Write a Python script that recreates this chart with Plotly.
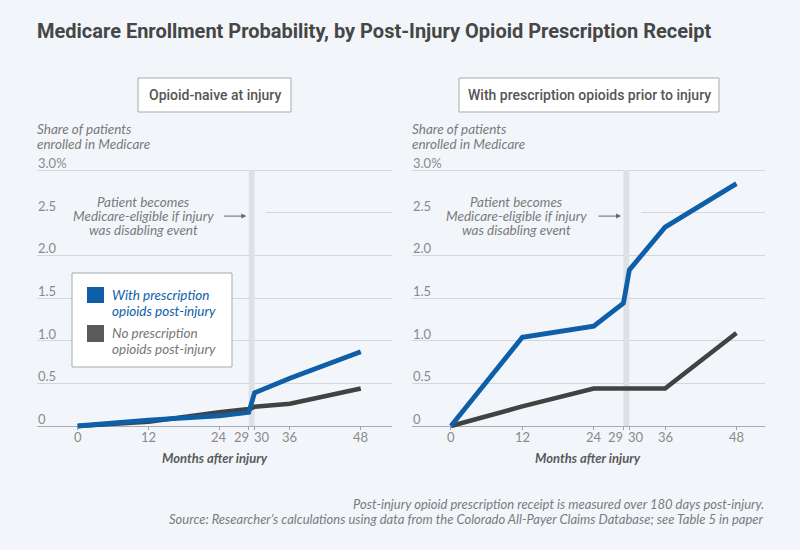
import plotly.graph_objects as go

# ---------------- data ----------------
months = [0, 12, 24, 29, 30, 36, 48]
naive_with = [0, 0.07, 0.12, 0.16, 0.39, 0.56, 0.87]
naive_without = [0, 0.05, 0.16, 0.20, 0.225, 0.26, 0.44]
prior_with = [0, 1.04, 1.17, 1.44, 1.83, 2.33, 2.84]
prior_without = [0, 0.23, 0.44, 0.44, 0.44, 0.44, 1.09]

y_tickvals = [0, 0.5, 1.0, 1.5, 2.0, 2.5, 3.0]
y_ticktext = ["0", "0.5", "1.0", "1.5", "2.0", "2.5", "3.0%"]
x_tickvals = [0, 12, 24, 29, 30, 36, 48]
x_ticktext = ["0", "12", "24", "29", "30", "36", "48"]

panel_titles = ["Opioid-naive at injury", "With prescription opioids prior to injury"]
series_names = ["With prescription opioids post-injury", "No prescription opioids post-injury"]
note_lines = ["Patient becomes", "Medicare-eligible if injury", "was disabling event"]

BG = "#f2f6fa"
BLUE = "#0e5ea8"
DARK = "#424242"
GRID = "#d3d7dc"
TICK = "#8a8a8a"
TXT = "#7a7a7a"
FONT = "Lato"
TFONT = "Roboto"

W, H = 800, 550
def px(v): return v / W
def py(v): return 1 - v / H

fig = go.Figure()

panels = [
    dict(xa="x", ya="y", xd=[px(37), px(392)], xr=[-6.9, 53.3], w=naive_with, wo=naive_without),
    dict(xa="x2", ya="y2", xd=[px(411.7), px(765)], xr=[-6.6, 52.8], w=prior_with, wo=prior_without),
]

UNIT = 85.33  # px per 1.0 percentage point
ydom = [py(426 + 0.04 * UNIT), py(170 - 0.05 * UNIT)]

for i, p in enumerate(panels):
    fig.add_trace(go.Scatter(x=months, y=p["wo"], mode="lines", xaxis=p["xa"], yaxis=p["ya"],
                             line=dict(color=DARK, width=4.6), name=series_names[1], showlegend=False,
                             hoverinfo="skip"))
    fig.add_trace(go.Scatter(x=months, y=p["w"], mode="lines", xaxis=p["xa"], yaxis=p["ya"],
                             line=dict(color=BLUE, width=4.8), name=series_names[0], showlegend=False,
                             hoverinfo="skip"))

axis_common_x = dict(tickvals=x_tickvals, ticks="outside", ticklen=3,
                     tickcolor="#a0a0a0", showgrid=False, zeroline=False, showline=False,
                     showticklabels=False, fixedrange=True)
axis_common_y = dict(tickvals=y_tickvals, range=[-0.04, 3.05], domain=ydom,
                     showgrid=True, gridcolor=GRID, gridwidth=1, zeroline=True,
                     zerolinecolor="#a8acb0", zerolinewidth=1, showline=False,
                     ticks="", showticklabels=False, fixedrange=True)

fig.update_layout(
    xaxis=dict(domain=panels[0]["xd"], range=panels[0]["xr"], anchor="free", position=py(426), **axis_common_x),
    xaxis2=dict(domain=panels[1]["xd"], range=panels[1]["xr"], anchor="free", position=py(426), **axis_common_x),
    yaxis=dict(anchor="x", **axis_common_y),
    yaxis2=dict(anchor="x2", **axis_common_y),
)

shapes = []
annotations = []

for i, p in enumerate(panels):
    xref = p["xa"]
    yref = p["ya"]
    # gap in the 2.5 gridline behind the note
    shapes.append(dict(type="rect", xref=xref, yref=yref, x0=p["xr"][0], x1=32.0, y0=2.46, y1=2.54,
                       fillcolor=BG, line=dict(width=0), layer="between"))
    # eligibility band
    shapes.append(dict(type="rect", xref=xref, yref=yref, x0=29, x1=30, y0=0, y1=3.0,
                       fillcolor="#dde1e6", line=dict(width=0), layer="between"))
    # x tick labels
    for v, t in zip(x_tickvals, x_ticktext):
        xa, xs = "center", 0
        if v == 29:
            xa, xs = "right", 2
        elif v == 30:
            xa, xs = "left", -3
        annotations.append(dict(x=v, y=0, xref=xref, yref=yref, text=t, showarrow=False,
                                xanchor=xa, yanchor="middle", xshift=xs, yshift=-11,
                                font=dict(family=FONT, size=13, color=TICK)))
    # y tick labels
    for v, t in zip(y_tickvals, y_ticktext):
        annotations.append(dict(x=p["xd"][0], y=v, xref="paper", yref=yref, text=t, showarrow=False,
                                xanchor="left", yanchor="middle", xshift=-1, yshift=7,
                                font=dict(family=FONT, size=13, color=TICK)))
    # note text (one block, tight line spacing emulated with separate lines)
    for txt, yy in zip(note_lines, [2.63, 2.465, 2.30]):
        annotations.append(dict(x=11.1, y=yy, xref=xref, yref=yref, text="<i>" + txt + "</i>",
                                showarrow=False, xanchor="center", yanchor="middle", borderpad=0,
                                font=dict(family=FONT, size=13.5, color=TXT)))
    # arrow
    annotations.append(dict(x=28.6, y=2.46, xref=xref, yref=yref, text="", showarrow=True,
                            ax=-24, ay=0, arrowhead=2, arrowsize=1, arrowwidth=1, arrowcolor="#666666"))
    # x-axis title
    cx = (p["xd"][0] + p["xd"][1]) / 2
    annotations.append(dict(x=cx, y=py(458), xref="paper", yref="paper",
                            text="<b><i>Months after injury</i></b>", showarrow=False,
                            xanchor="center", yanchor="middle",
                            font=dict(family=FONT, size=13, color="#5a5a5a")))
    # y-axis title
    for txt, yy in zip(["Share of patients", "enrolled in Medicare"], [129, 144]):
        annotations.append(dict(x=p["xd"][0], y=py(yy), xref="paper", yref="paper",
                                text="<i>" + txt + "</i>", showarrow=False, xanchor="left",
                                yanchor="middle", xshift=-1, borderpad=0,
                                font=dict(family=FONT, size=13.5, color=TXT)))

# panel title boxes
boxes = [(138, 291), (459, 719)]
for (x0, x1), t in zip(boxes, panel_titles):
    shapes.append(dict(type="rect", xref="paper", yref="paper", x0=px(x0), x1=px(x1),
                       y0=py(112), y1=py(78), fillcolor="white", line=dict(color="#a9a9a9", width=1)))
    annotations.append(dict(x=px((x0 + x1) / 2), y=py(95), xref="paper", yref="paper", text=t,
                            showarrow=False, xanchor="center", yanchor="middle",
                            font=dict(family=TFONT, size=14, color="#555555", weight=500)))

# legend box
shapes.append(dict(type="rect", xref="paper", yref="paper", x0=px(72), x1=px(232), y0=py(367), y1=py(273),
                   fillcolor="white", line=dict(color="#a9a9a9", width=1)))
shapes.append(dict(type="rect", xref="paper", yref="paper", x0=px(87), x1=px(104), y0=py(303), y1=py(287),
                   fillcolor=BLUE, line=dict(width=0)))
shapes.append(dict(type="rect", xref="paper", yref="paper", x0=px(87), x1=px(104), y0=py(342), y1=py(325),
                   fillcolor="#5a5a5a", line=dict(width=0)))
for txt, yy, col in [("With prescription", 295, BLUE), ("opioids post-injury", 311, BLUE),
                     ("No prescription", 333, "#777777"), ("opioids post-injury", 349, "#777777")]:
    annotations.append(dict(x=px(111), y=py(yy), xref="paper", yref="paper", text="<i>" + txt + "</i>",
                            showarrow=False, xanchor="left", yanchor="middle", borderpad=0,
                            font=dict(family=FONT, size=13.5, color=col)))

# main title
annotations.append(dict(x=px(37), y=py(31), xref="paper", yref="paper",
                        text="<b>Medicare Enrollment Probability, by Post-Injury Opioid Prescription Receipt</b>",
                        showarrow=False, xanchor="left", yanchor="middle", xshift=-2,
                        font=dict(family=TFONT, size=20, color="#464646")))

# footnote
for txt, yy in [("Post-injury opioid prescription receipt is measured over 180 days post-injury.", 504),
                ("Source: Researcher\u2019s calculations using data from the Colorado All-Payer Claims Database; see Table 5 in paper", 519)]:
    annotations.append(dict(x=px(765), y=py(yy), xref="paper", yref="paper", text="<i>" + txt + "</i>",
                            showarrow=False, xanchor="right", yanchor="middle", borderpad=0,
                            font=dict(family=FONT, size=13, color=TXT)))

fig.update_layout(width=W, height=H, margin=dict(l=0, r=0, t=0, b=0),
                  paper_bgcolor=BG, plot_bgcolor=BG, shapes=shapes, annotations=annotations,
                  showlegend=False)

fig.write_html("out.html", config={"displayModeBar": False},
               post_script="document.body.style.margin='0';document.body.style.padding='0';")
